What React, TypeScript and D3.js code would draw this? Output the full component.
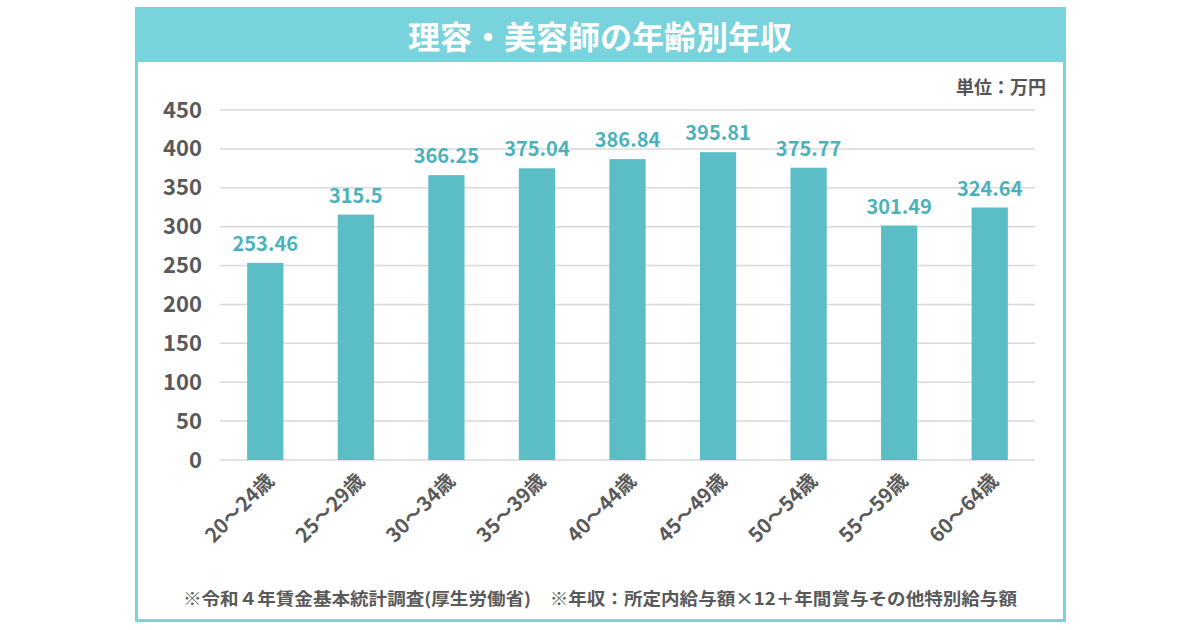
import React, { useEffect, useRef } from 'react';
import * as d3 from 'd3';

const ages = ['20～24歳', '25～29歳', '30～34歳', '35～39歳', '40～44歳', '45～49歳', '50～54歳', '55～59歳', '60～64歳'];
const incomes = [253.46, 315.5, 366.25, 375.04, 386.84, 395.81, 375.77, 301.49, 324.64];
const incomeLabels = ['253.46', '315.5', '366.25', '375.04', '386.84', '395.81', '375.77', '301.49', '324.64'];
const yTicks = [0, 50, 100, 150, 200, 250, 300, 350, 400, 450];

const FONT = '"Noto Sans CJK JP", "Noto Sans", sans-serif';

const App = () => {
  const svgRef = useRef(null);

  useEffect(() => {
    const svg = d3.select(svgRef.current);
    svg.selectAll('*').remove();

    // frame + header
    svg.append('rect')
      .attr('x', 136.5).attr('y', 8.5).attr('width', 928).attr('height', 612)
      .attr('fill', '#fff').attr('stroke', '#79d3dc').attr('stroke-width', 3);
    svg.append('rect')
      .attr('x', 135).attr('y', 7).attr('width', 931).attr('height', 55)
      .attr('fill', '#79d3dc');
    svg.append('text')
      .attr('x', 600).attr('y', 35)
      .attr('text-anchor', 'middle').attr('dominant-baseline', 'central')
      .attr('fill', '#fff').attr('font-size', 32).attr('font-weight', 700)
      .attr('font-family', FONT)
      .text('理容・美容師の年齢別年収');

    svg.append('text')
      .attr('x', 1046).attr('y', 86)
      .attr('text-anchor', 'end').attr('dominant-baseline', 'central')
      .attr('fill', '#555').attr('font-size', 18).attr('font-weight', 700)
      .attr('font-family', FONT)
      .text('単位：万円');

    const x = d3.scaleBand().domain(ages).range([220, 1035]).paddingInner(0.6).paddingOuter(0.3);
    const y = d3.scaleLinear().domain([0, 450]).range([460, 110]);

    // gridlines
    svg.append('g').selectAll('line').data(yTicks).join('line')
      .attr('x1', 220).attr('x2', 1035)
      .attr('y1', d => y(d)).attr('y2', d => y(d))
      .attr('stroke', '#d9d9d9').attr('stroke-width', 1.5);

    // y axis labels
    const yAxis = d3.axisLeft(y).tickValues(yTicks).tickSize(0).tickPadding(0);
    const gy = svg.append('g').attr('transform', 'translate(202,0)').call(yAxis);
    gy.select('.domain').remove();
    gy.selectAll('text')
      .attr('fill', '#595959').attr('font-size', 22).attr('font-weight', 700)
      .attr('font-family', FONT);

    // bars
    svg.append('g').selectAll('rect').data(incomes).join('rect')
      .attr('x', (d, i) => x(ages[i]) as number)
      .attr('width', x.bandwidth())
      .attr('y', d => y(d))
      .attr('height', d => y(0) - y(d))
      .attr('fill', '#5bbec6');

    // value labels
    svg.append('g').selectAll('text').data(incomes).join('text')
      .attr('x', (d, i) => (x(ages[i]) as number) + x.bandwidth() / 2)
      .attr('y', d => y(d) - 12)
      .attr('text-anchor', 'middle')
      .attr('fill', '#4bb2bb').attr('font-size', 20).attr('font-weight', 700)
      .attr('font-family', FONT)
      .text((d, i) => incomeLabels[i]);

    // x labels rotated
    const xAxis = d3.axisBottom(x).tickSize(0).tickPadding(0);
    const gx = svg.append('g').attr('transform', 'translate(0,460)').call(xAxis);
    gx.select('.domain').remove();
    gx.selectAll('text')
      .attr('text-anchor', 'end')
      .attr('dy', null)
      .attr('y', 0)
      .attr('transform', 'translate(4,16) rotate(-45)')
      .attr('fill', '#595959').attr('font-size', 20).attr('font-weight', 700)
      .attr('font-family', FONT)
      .attr('dominant-baseline', 'central');

    svg.append('text')
      .attr('x', 600).attr('y', 597)
      .attr('text-anchor', 'middle').attr('dominant-baseline', 'central')
      .attr('fill', '#595959').attr('font-size', 17).attr('font-weight', 700)
      .attr('font-family', FONT)
      .attr('textLength', 834).attr('lengthAdjust', 'spacingAndGlyphs')
      .text('※令和４年賃金基本統計調査(厚生労働省)　※年収：所定内給与額×12＋年間賞与その他特別給与額');
  }, []);

  return (
    <svg ref={svgRef} width={1200} height={630}
      style={{ position: 'absolute', left: 0, top: 0 }} />
  );
};

export default App;
